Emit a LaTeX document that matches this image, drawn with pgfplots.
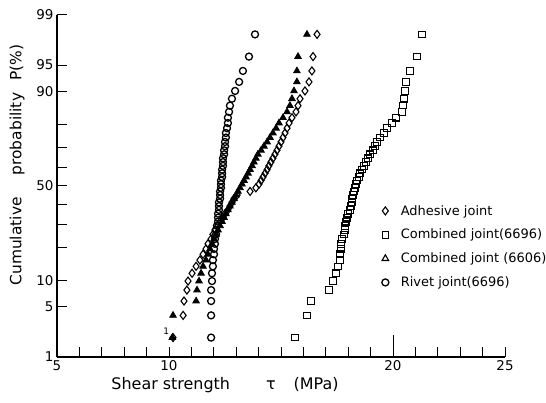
\documentclass[border=0pt]{standalone}
\usepackage{fontspec}
\setmainfont{DejaVu Sans}
\usepackage{pgfplots}
\usepackage{pgfplotstable}
\pgfplotsset{compat=1.18}

% y = normal quantile of rank i/51 (i = 1..50), x = shear strength in MPa
\pgfplotstableread{
z      adh   comb96 comb06 rivet
-2.062 10.18 15.63  10.15  11.88
-1.760 10.63 16.16  10.18  11.88
-1.565 10.67 16.34  11.21  11.88
-1.416 10.80 17.14  11.25  11.88
-1.293 10.85 17.32  11.34  11.92
-1.187 11.03 17.46  11.43  11.92
-1.093 11.21 17.54  11.52  11.96
-1.008 11.38 17.63  11.65  11.96
-0.929 11.52 17.63  11.74  12.01
-0.856 11.65 17.68  11.83  12.01
-0.786 11.74 17.68  11.92  12.05
-0.721 11.88 17.72  12.01  12.05
-0.659 11.96 17.81  12.10  12.10
-0.599 12.05 17.86  12.19  12.10
-0.541 12.19 17.86  12.28  12.14
-0.485 12.28 17.90  12.37  12.19
-0.431 12.41 17.95  12.46  12.19
-0.377 12.50 17.99  12.54  12.19
-0.325 12.63 18.08  12.63  12.23
-0.274 12.72 18.13  12.72  12.23
-0.223 12.81 18.17  12.81  12.23
-0.173 12.90 18.17  12.90  12.28
-0.123 13.04 18.21  12.99  12.28
-0.074 13.62 18.26  13.08  12.28
-0.025 13.88 18.30  13.17  12.32
 0.025 14.02 18.35  13.26  12.32
 0.074 14.11 18.39  13.35  12.32
 0.123 14.20 18.48  13.44  12.37
 0.173 14.29 18.53  13.53  12.37
 0.223 14.38 18.62  13.62  12.37
 0.274 14.46 18.71  13.71  12.41
 0.325 14.55 18.79  13.79  12.41
 0.377 14.64 18.88  13.88  12.41
 0.431 14.73 18.97  13.97  12.46
 0.485 14.82 19.11  14.11  12.46
 0.541 14.91 19.20  14.24  12.50
 0.599 15.00 19.29  14.38  12.50
 0.659 15.09 19.42  14.51  12.54
 0.721 15.18 19.60  14.64  12.54
 0.786 15.27 19.73  14.78  12.59
 0.856 15.36 19.96  14.91  12.63
 0.929 15.49 20.13  15.09  12.63
 1.008 15.67 20.40  15.27  12.68
 1.093 15.76 20.45  15.40  12.72
 1.187 15.85 20.49  15.49  12.81
 1.293 16.07 20.54  15.58  12.95
 1.416 16.25 20.58  15.71  13.13
 1.565 16.38 20.76  15.71  13.30
 1.760 16.43 21.07  15.76  13.57
 2.062 16.61 21.29  16.16  13.84
}\shear

\begin{document}
\begin{tikzpicture}
\useasboundingbox (-57bp,-46bp) rectangle (489bp,357bp);
\begin{axis}[
  at={(0,0)}, anchor=south west,
  scale only axis, width=448bp, height=342bp,
  xmin=5, xmax=25, ymin=-2.326, ymax=2.326,
  clip=false,
  axis x line=bottom, axis y line=left,
  axis line style={-, line width=1.3bp},
  tick align=inside, major tick length=10bp,
  every tick/.style={black, line width=1bp},
  xtick={5,...,25},
  xticklabels={5,,,,,10,,,,,,,,,,20,,,,,25},
  extra x ticks={20}, extra x tick labels={},
  extra x tick style={major tick length=22bp},
  ytick={-2.326,-1.645,-1.2816,-0.8416,-0.5244,-0.2533,0,0.2533,0.5244,0.8416,1.2816,1.645,2.326},
  yticklabels={1,5,10,,,,50,,,,90,95,99},
  tick label style={font=\fontsize{13.5}{15}\selectfont},
  xlabel={Shear strength\hspace{36bp}τ\hspace{18bp}(MPa)},
  xlabel style={at={(axis description cs:0.375,-0.058)}, anchor=north, inner sep=0pt,
    font=\fontsize{16}{18}\selectfont},
  ylabel={Cumulative\hspace{22bp}probability\hspace{12bp}P(\%)},
  ylabel style={at={(axis description cs:-0.0893,0.561)}, anchor=center, inner sep=0pt,
    font=\fontsize{15.5}{17}\selectfont},
  legend style={at={(axis description cs:0.718,0.453)}, anchor=north west,
    draw=none, fill=none, font=\fontsize{13}{14.5}\selectfont,
    row sep=10.5bp, nodes={inner sep=1bp}},
  legend cell align=left,
]
\addlegendimage{only marks, mark=diamond, mark size=4bp, mark options={black, line width=1.1bp}}
\addlegendentry{\hspace{11bp}Adhesive joint}
\addlegendimage{only marks, mark=square, mark size=3.3bp, mark options={black, line width=1.1bp}}
\addlegendentry{\hspace{11bp}Combined joint(6696)}
\addlegendimage{only marks, mark=triangle, mark size=3.8bp, mark options={black, line width=1.1bp}}
\addlegendentry{\hspace{11bp}Combined joint (6606)}
\addlegendimage{only marks, mark=o, mark size=3.5bp, mark options={black, line width=1.3bp}}
\addlegendentry{\hspace{11bp}Rivet joint(6696)}

\addplot[forget plot, only marks, mark=square, mark size=3.3bp,
  mark options={black, fill=white, line width=1.1bp}] table[x=comb96, y=z] {\shear};
\addplot[forget plot, only marks, mark=diamond, mark size=4bp,
  mark options={black, fill=white, line width=1.1bp}] table[x=adh, y=z] {\shear};
\addplot[forget plot, only marks, mark=o, mark size=3.5bp,
  mark options={black, fill=white, line width=1.3bp}] table[x=rivet, y=z] {\shear};
\addplot[forget plot, only marks, mark=triangle*, mark size=3.8bp,
  mark options={black, fill=black, line width=0.8bp}] table[x=comb06, y=z] {\shear};

\node[font=\fontsize{9}{9}\selectfont] at (axis cs:9.88,-1.98) {1};
\end{axis}
\end{tikzpicture}
\end{document}
